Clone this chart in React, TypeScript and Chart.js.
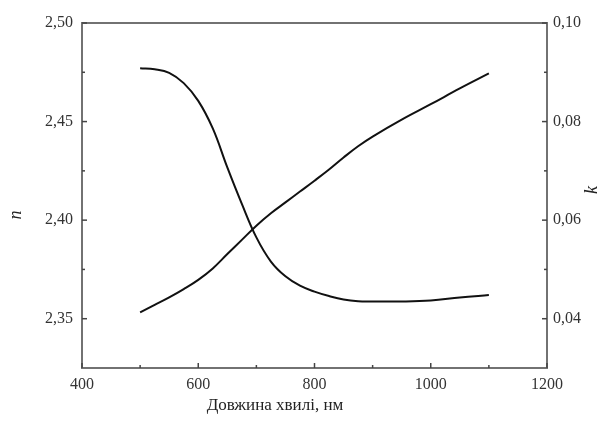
import React, { useEffect, useRef } from 'react';
import { Chart, registerables } from 'chart.js';

Chart.register(...registerables);

const WAVELENGTH = [500, 525, 550, 575, 600, 625, 650, 675, 700, 725, 750, 775, 800, 825, 850, 875, 900, 950, 1000, 1050, 1100];
const N_VALUES = [2.3532, 2.357, 2.3608, 2.365, 2.3697, 2.3755, 2.3828, 2.39, 2.3972, 2.4035, 2.409, 2.4145, 2.42, 2.4257, 2.4318, 2.4375, 2.4424, 2.451, 2.4588, 2.4668, 2.4744];
const K_VALUES = [0.0908, 0.0906, 0.0899, 0.0878, 0.0842, 0.0786, 0.0707, 0.0633, 0.0565, 0.0516, 0.0486, 0.0467, 0.0455, 0.0446, 0.0439, 0.04355, 0.0435, 0.0435, 0.0437, 0.0443, 0.0448];

const X_TICKS = [400, 600, 800, 1000, 1200];
const X_MINOR = [500, 700, 900, 1100];
const N_TICKS = [2.35, 2.4, 2.45, 2.5];
const N_MINOR = [2.375, 2.425, 2.475];
const K_TICKS = [0.04, 0.06, 0.08, 0.1];
const K_MINOR = [0.05, 0.07, 0.09];

const X_TITLE = 'Довжина хвилі, нм';
const N_TITLE = 'n';
const K_TITLE = 'k';

const fmt = (v: number) => v.toFixed(2).replace('.', ',');

const framePlugin = {
  id: 'frameTicks',
  afterDraw(chart: any) {
    const { ctx, chartArea } = chart;
    const { left, right, top, bottom } = chartArea;
    const xs = chart.scales.x;
    const yn = chart.scales.yN;
    const yk = chart.scales.yK;
    ctx.save();
    ctx.strokeStyle = '#727272';
    ctx.lineWidth = 2;
    ctx.strokeRect(left, top, right - left, bottom - top);
    ctx.lineWidth = 1.5;
    ctx.strokeStyle = '#444';
    const tick = (x1: number, y1: number, x2: number, y2: number) => {
      ctx.beginPath();
      ctx.moveTo(x1, y1);
      ctx.lineTo(x2, y2);
      ctx.stroke();
    };
    X_TICKS.forEach((v) => { const p = xs.getPixelForValue(v); tick(p, bottom, p, bottom - 5); });
    X_MINOR.forEach((v) => { const p = xs.getPixelForValue(v); tick(p, bottom, p, bottom - 3); });
    N_TICKS.forEach((v) => { const p = yn.getPixelForValue(v); tick(left, p, left + 5, p); });
    N_MINOR.forEach((v) => { const p = yn.getPixelForValue(v); tick(left, p, left + 3, p); });
    K_TICKS.forEach((v) => { const p = yk.getPixelForValue(v); tick(right, p, right - 5, p); });
    K_MINOR.forEach((v) => { const p = yk.getPixelForValue(v); tick(right, p, right - 3, p); });

    ctx.fillStyle = '#222';
    ctx.textAlign = 'center';
    ctx.textBaseline = 'middle';
    ctx.font = '17px "Liberation Serif"';
    ctx.fillText(X_TITLE, 275, 406);
    ctx.font = 'italic 18px "Liberation Serif"';
    ctx.save();
    ctx.translate(16, 215);
    ctx.rotate(-Math.PI / 2);
    ctx.fillText(N_TITLE, 0, 0);
    ctx.restore();
    ctx.save();
    ctx.translate(592, 190);
    ctx.rotate(-Math.PI / 2);
    ctx.fillText(K_TITLE, 0, 0);
    ctx.restore();
    ctx.restore();
  },
};

export default function App() {
  const ref = useRef<HTMLCanvasElement>(null);
  useEffect(() => {
    if (!ref.current) return;
    const tickFont = { family: '"Liberation Serif"', size: 16 };
    const lineStyle = {
      borderColor: '#111',
      borderWidth: 2,
      pointRadius: 0,
      tension: 0.4,
      fill: false,
    };
    const chart = new Chart(ref.current, {
      type: 'line',
      data: {
        datasets: [
          { label: N_TITLE, data: WAVELENGTH.map((x, i) => ({ x, y: N_VALUES[i] })), yAxisID: 'yN', ...lineStyle },
          { label: K_TITLE, data: WAVELENGTH.map((x, i) => ({ x, y: K_VALUES[i] })), yAxisID: 'yK', ...lineStyle },
        ],
      },
      options: {
        animation: false,
        responsive: false,
        layout: { padding: { top: 23, right: 0, left: 0, bottom: 0 } },
        plugins: { legend: { display: false }, tooltip: { enabled: false } },
        scales: {
          x: {
            type: 'linear',
            min: 400,
            max: 1200,
            grid: { display: false, drawTicks: false },
            border: { display: false },
            afterBuildTicks: (s: any) => { s.ticks = X_TICKS.map((value) => ({ value })); },
            afterFit: (s: any) => { s.height = 56; },
            ticks: { color: '#333', font: tickFont, padding: 7, maxRotation: 0, autoSkip: false, callback: (v: any) => String(v) },
          },
          yN: {
            type: 'linear',
            position: 'left',
            min: 2.325,
            max: 2.5,
            grid: { display: false, drawTicks: false },
            border: { display: false },
            afterBuildTicks: (s: any) => { s.ticks = N_TICKS.map((value) => ({ value })); },
            afterFit: (s: any) => { s.width = 82; },
            ticks: { color: '#333', font: tickFont, padding: 9, autoSkip: false, callback: (v: any) => fmt(Number(v)) },
          },
          yK: {
            type: 'linear',
            position: 'right',
            min: 0.03,
            max: 0.1,
            grid: { display: false, drawTicks: false },
            border: { display: false },
            afterBuildTicks: (s: any) => { s.ticks = K_TICKS.map((value) => ({ value })); },
            afterFit: (s: any) => { s.width = 61; },
            ticks: { color: '#333', font: tickFont, padding: 6, autoSkip: false, callback: (v: any) => fmt(Number(v)) },
          },
        },
      },
      plugins: [framePlugin],
    } as any);
    return () => chart.destroy();
  }, []);
  return (
    <div style={{ position: 'fixed', left: 0, top: 0, width: 608, height: 424, background: '#fff' }}>
      <canvas ref={ref} width={608} height={424} style={{ display: 'block' }} />
    </div>
  );
}
